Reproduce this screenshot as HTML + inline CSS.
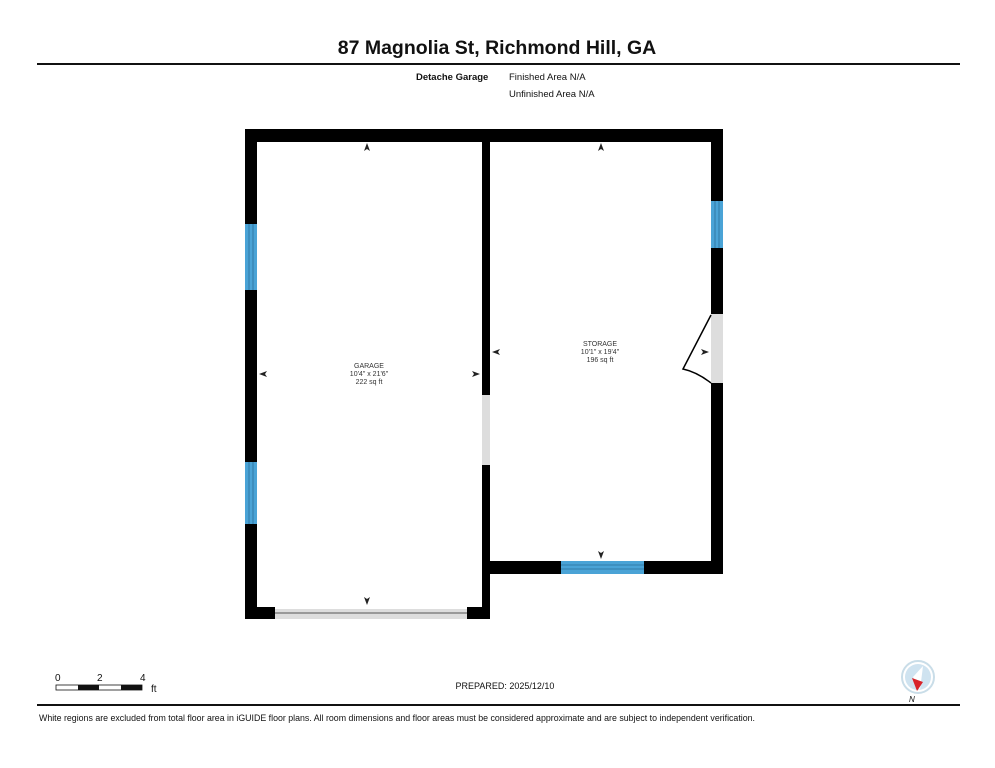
<!DOCTYPE html>
<html><head><meta charset="utf-8"><style>
body{margin:0;background:#fff;width:995px;height:768px;overflow:hidden;font-family:"Liberation Sans",Arial,sans-serif;}
</style></head><body>
<svg width="995" height="768" xmlns="http://www.w3.org/2000/svg" style="position:absolute;left:0;top:0">
<rect x="0" y="0" width="995" height="768" fill="#fff"/>
<text x="497" y="54" text-anchor="middle" font-family="Liberation Sans,Arial,sans-serif" font-weight="bold" font-size="19.5" fill="#111">87 Magnolia St, Richmond Hill, GA</text>
<rect x="37" y="63" width="923" height="2" fill="#111"/>
<text x="416" y="80" font-family="Liberation Sans,Arial,sans-serif" font-weight="bold" font-size="9.5" fill="#111">Detache Garage</text>
<text x="509" y="80" font-family="Liberation Sans,Arial,sans-serif" font-size="9.5" fill="#111">Finished Area N/A</text>
<text x="509" y="97" font-family="Liberation Sans,Arial,sans-serif" font-size="9.5" fill="#111">Unfinished Area N/A</text>

<g fill="#000">
<rect x="245" y="129" width="478" height="13"/>
<rect x="245" y="129" width="12" height="490"/>
<rect x="245" y="607" width="30" height="12"/>
<rect x="467" y="607" width="23" height="12"/>
<rect x="482" y="129" width="8" height="490"/>
<rect x="711" y="129" width="12" height="445"/>
<rect x="482" y="561" width="241" height="13"/>
</g>
<rect x="482" y="395" width="8" height="70" fill="#ddd"/>
<rect x="711" y="314" width="12" height="69" fill="#ddd"/>
<rect x="275" y="609" width="192" height="10" fill="#ddd"/>
<line x1="275" y1="613" x2="467" y2="613" stroke="#555" stroke-width="1"/>
<g fill="#4aa3d6">
<rect x="245" y="224" width="12" height="66"/>
<rect x="245" y="462" width="12" height="62"/>
<rect x="711" y="201" width="12" height="47"/>
<rect x="561" y="561" width="83" height="13"/>
</g>
<g stroke="#2a6f9a" stroke-width="0.8">
<line x1="249" y1="224" x2="249" y2="290"/><line x1="253" y1="224" x2="253" y2="290"/>
<line x1="249" y1="462" x2="249" y2="524"/><line x1="253" y1="462" x2="253" y2="524"/>
<line x1="715" y1="201" x2="715" y2="248"/><line x1="719" y1="201" x2="719" y2="248"/>
<line x1="561" y1="565" x2="644" y2="565"/><line x1="561" y1="569" x2="644" y2="569"/>
</g>
<path d="M711 315 L683 369 Q697 372 711 383" fill="none" stroke="#000" stroke-width="1.5"/>

<g fill="#222">
<polygon points="367,143 364,151 367,149 370,151"/>
<polygon points="601,143 598,151 601,149 604,151"/>
<polygon points="367,605 364,597 367,599 370,597"/>
<polygon points="601,559 598,551 601,553 604,551"/>
<polygon points="259,374 267,371 265,374 267,377"/>
<polygon points="480,374 472,371 474,374 472,377"/>
<polygon points="492,352 500,349 498,352 500,355"/>
<polygon points="709,352 701,349 703,352 701,355"/>
</g>
<g font-family="Liberation Sans,Arial,sans-serif" font-size="7" fill="#333" text-anchor="middle">
<text x="369" y="368">GARAGE</text><text x="369" y="376">10'4" x 21'6"</text><text x="369" y="384">222 sq ft</text>
<text x="600" y="346">STORAGE</text><text x="600" y="354">10'1" x 19'4"</text><text x="600" y="362">196 sq ft</text>
</g>

<g font-family="Liberation Sans,Arial,sans-serif" font-size="10" fill="#111">
<text x="55" y="681">0</text><text x="97" y="681">2</text><text x="140" y="681">4</text><text x="151" y="692">ft</text>
</g>
<rect x="56" y="685" width="86" height="5" fill="#fff" stroke="#111" stroke-width="0.8"/>
<rect x="78" y="685" width="21" height="5" fill="#111"/>
<rect x="121" y="685" width="21" height="5" fill="#111"/>

<text x="505" y="689" text-anchor="middle" font-family="Liberation Sans,Arial,sans-serif" font-size="9" fill="#111">PREPARED: 2025/12/10</text>

<circle cx="918" cy="677" r="16" fill="#fff" stroke="#c9dde8" stroke-width="2"/>
<circle cx="918" cy="677" r="13" fill="#cfe3f0"/>
<polygon points="923,666 920,690 913,677" fill="#fff"/>
<polygon points="912,678 923,682 917,691" fill="#d8232a"/>
<text x="909" y="702" font-family="Liberation Sans,Arial,sans-serif" font-size="8" font-style="italic" fill="#111">N</text>

<rect x="37" y="704" width="923" height="2" fill="#111"/>
<text x="39" y="721" textLength="716" lengthAdjust="spacingAndGlyphs" font-family="Liberation Sans,Arial,sans-serif" font-size="8.8" fill="#111">White regions are excluded from total floor area in iGUIDE floor plans. All room dimensions and floor areas must be considered approximate and are subject to independent verification.</text>
</svg>
</body></html>
